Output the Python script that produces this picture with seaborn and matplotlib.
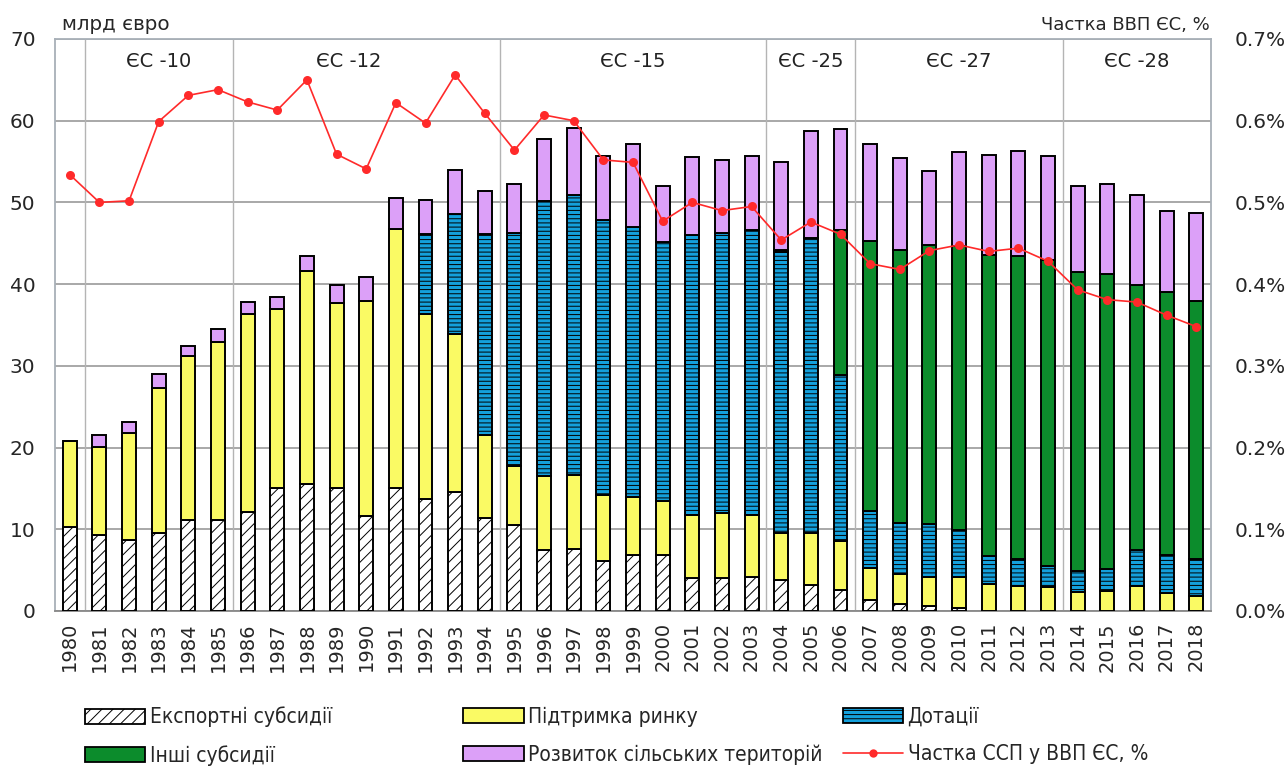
import numpy as np
import pandas as pd
import matplotlib
matplotlib.use("Agg")
import matplotlib.pyplot as plt
import seaborn as sns
from matplotlib.patches import Patch
from matplotlib.lines import Line2D

# data (bn euro, stacked layers)
years = [str(y) for y in range(1980, 2019)]

export_subsidies = [10.3, 9.3, 8.7, 9.5, 11.1, 11.1, 12.1, 15.0, 15.6, 15.0, 11.6, 15.0, 13.7,
                    14.5, 11.4, 10.5, 7.5, 7.6, 6.1, 6.8, 6.8, 4.0, 4.0, 4.2, 3.8, 3.2, 2.6,
                    1.4, 0.8, 0.6, 0.4, 0, 0, 0, 0, 0, 0, 0, 0]
market_support = [10.5, 10.8, 13.1, 17.8, 20.1, 21.8, 24.2, 21.9, 26.0, 22.7, 26.3, 31.8, 22.7,
                  19.4, 10.1, 7.2, 9.0, 9.1, 8.1, 7.1, 6.6, 7.7, 8.0, 7.6, 5.7, 6.3, 6.0,
                  3.8, 3.7, 3.6, 3.7, 3.3, 3.1, 2.9, 2.3, 2.4, 3.0, 2.2, 1.8]
direct_payments = [0, 0, 0, 0, 0, 0, 0, 0, 0, 0, 0, 0, 9.7,
                   14.7, 24.6, 28.5, 33.7, 34.2, 33.6, 33.1, 31.8, 34.3, 34.2, 34.8, 34.4, 36.1, 20.3,
                   7.0, 6.3, 6.4, 5.8, 3.4, 3.3, 2.6, 2.6, 2.7, 4.5, 4.6, 4.6]
other_subsidies = [0, 0, 0, 0, 0, 0, 0, 0, 0, 0, 0, 0, 0,
                   0, 0, 0, 0, 0, 0, 0, 0, 0, 0, 0, 0.3, 0, 17.7,
                   33.1, 33.4, 34.2, 34.8, 36.9, 37.0, 37.4, 36.6, 36.2, 32.4, 32.2, 31.5]
rural_development = [0, 1.4, 1.3, 1.7, 1.2, 1.6, 1.5, 1.5, 1.8, 2.2, 3.0, 3.7, 4.2,
                     5.4, 5.3, 6.0, 7.6, 8.2, 7.9, 10.2, 6.8, 9.6, 9.0, 9.1, 10.8, 13.2, 12.4,
                     11.8, 11.2, 9.1, 11.5, 12.2, 12.9, 12.8, 10.5, 10.9, 11.0, 9.9, 10.8]
cap_share_gdp = [0.534, 0.500, 0.502, 0.599, 0.631, 0.638, 0.623, 0.613, 0.650, 0.559, 0.541,
                 0.622, 0.597, 0.656, 0.609, 0.564, 0.607, 0.600, 0.552, 0.549, 0.477, 0.500,
                 0.490, 0.495, 0.454, 0.476, 0.461, 0.425, 0.418, 0.441, 0.448, 0.440, 0.444,
                 0.428, 0.393, 0.381, 0.378, 0.362, 0.348]

groups = ["ЄС -10", "ЄС -12", "ЄС -15", "ЄС -25", "ЄС -27", "ЄС -28"]
group_bounds = [0.5, 5.5, 14.5, 23.5, 26.5, 33.5]
group_label_x = [3.0, 9.4, 19.0, 25.0, 30.0, 36.0]

df = pd.DataFrame({"year": years, "export": export_subsidies, "market": market_support,
                   "direct": direct_payments, "other": other_subsidies,
                   "rural": rural_development, "share": cap_share_gdp})

sns.set_theme(style="white")
plt.rcParams["font.family"] = ["DejaVu Sans"]
plt.rcParams["hatch.linewidth"] = 0.7

fig = plt.figure(figsize=(12.87, 7.69), dpi=100)
ax = fig.add_axes([0.0427, 0.2055, 0.8983, 0.7438])

layers = [
    ("export", "white", "///", "Експортні субсидії"),
    ("market", "#FAFA64", None, "Підтримка ринку"),
    ("direct", "#14A0DC", "----", "Дотації"),
    ("other", "#0C8C2C", None, "Інші субсидії"),
    ("rural", "#DCA0F8", None, "Розвиток сільських територій"),
]

bottom = np.zeros(len(years))
for col, color, hatch, label in layers:
    sns.barplot(data=df, x="year", y=col, bottom=bottom, color=color, saturation=1,
                hatch=hatch, edgecolor="black", linewidth=1.4, width=0.47,
                errorbar=None, ax=ax, zorder=3)
    bottom = bottom + df[col].to_numpy()

ax.set_xlim(-0.5, len(years) - 0.5)
ax.set_ylim(0, 70)
ax.set_yticks(range(0, 71, 10))
ax.set_xlabel("")
ax.set_ylabel("")
ax.yaxis.grid(True, color="#9a9a9a", linewidth=1.2, zorder=0)
ax.set_axisbelow(True)
for b in group_bounds:
    ax.axvline(b, color="#b4b4b4", linewidth=1.0, zorder=1)
for g, gx in zip(groups, group_label_x):
    ax.text(gx, 67.2, g, ha="center", va="center", fontsize=14, color="#222222")

ax.tick_params(axis="x", which="major", length=0, labelrotation=90, labelsize=14, pad=8)
ax.set_xticks(np.arange(-0.5, len(years) - 0.4, 1), minor=True)
ax.tick_params(axis="x", which="minor", length=6, color="#888888", width=1, direction="out")
ax.tick_params(axis="y", length=0, labelsize=14.5, pad=14)
for s in ax.spines.values():
    s.set_color("#a8b0b8")
    s.set_linewidth(1.3)
ax.spines["bottom"].set_color("#888888")

ax2 = ax.twinx()
sns.lineplot(x=np.arange(len(years)), y=df["share"], ax=ax2, color="#FF2A2A",
             linewidth=1.2, marker="o", markersize=6.5, markeredgewidth=0, zorder=5)
ax2.set_ylim(0, 0.7)
ax2.set_yticks(np.arange(0, 0.71, 0.1))
ax2.set_yticklabels([f"{v:.1f}%" for v in np.arange(0, 0.71, 0.1)])
ax2.tick_params(axis="y", length=0, labelsize=14.5, pad=17)
ax2.set_ylabel("")
ax2.grid(False)
for s in ax2.spines.values():
    s.set_visible(False)

fig.text(0.048, 0.9675, "млрд євро", fontsize=14.3, ha="left", va="center")
fig.text(0.94, 0.9675, "Частка ВВП ЄС, %", fontsize=13, ha="right", va="center")

# legend: three columns of two rows
leg_font = {"family": "DejaVu Sans", "stretch": "condensed", "size": 15}
h = {lab: Patch(facecolor=c, edgecolor="black", hatch=ht, linewidth=1.3)
     for _, c, ht, lab in layers}
line_h = Line2D([], [], color="#FF2A2A", linewidth=1.2, marker="o", markersize=6,
                markeredgewidth=0)
cols = [
    (0.066, [h["Експортні субсидії"], h["Інші субсидії"]], ["Експортні субсидії", "Інші субсидії"]),
    (0.36, [h["Підтримка ринку"], h["Розвиток сільських територій"]], ["Підтримка ринку", "Розвиток сільських територій"]),
    (0.655, [h["Дотації"], line_h], ["Дотації", "Частка ССП у ВВП ЄС, %"]),
]
for x0, hs, ls in cols:
    fig.legend(hs, ls, loc="upper left", bbox_to_anchor=(x0, 0.081), frameon=False,
               prop=leg_font, handlelength=2.9, handleheight=0.75, handletextpad=0.2,
               labelspacing=0.85, borderaxespad=0, borderpad=0)

fig.savefig("out.png", dpi=100)
